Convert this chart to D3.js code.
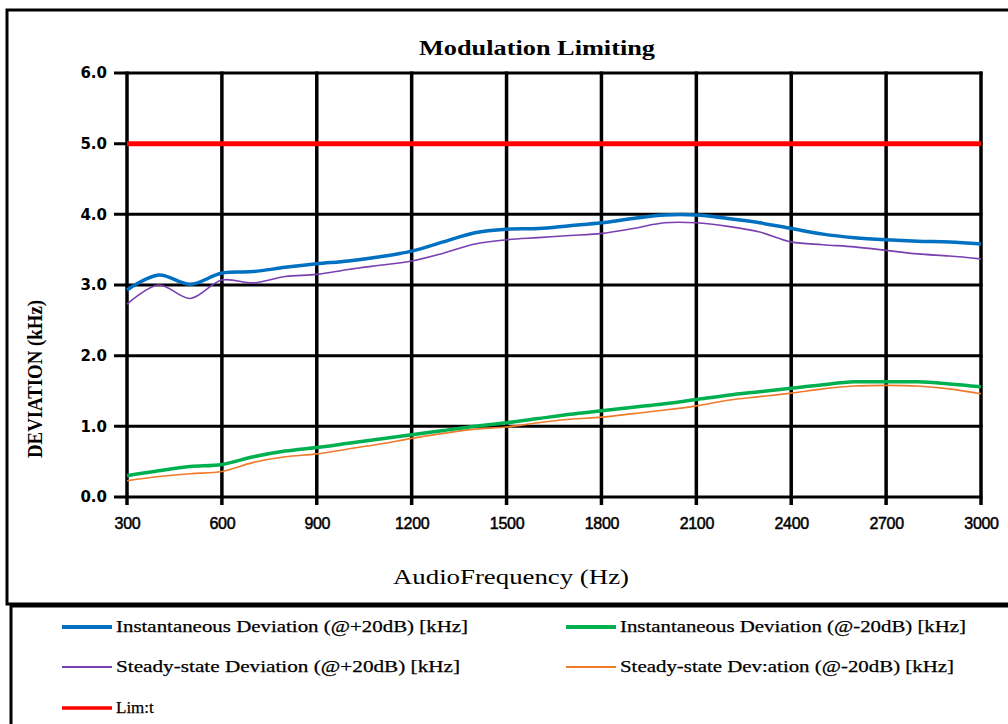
<!DOCTYPE html>
<html>
<head>
<meta charset="utf-8">
<script src="https://cdn.jsdelivr.net/npm/d3@7"></script>
<style>
  body { margin: 0; background: #fff; }
  svg { display: block; }
</style>
</head>
<body>
<div id="chart"></div>
<script>
// audio frequency points (Hz)
var freqs = [300, 400, 500, 600, 700, 800, 900, 1000, 1100, 1200, 1300, 1400, 1500, 1600,
             1700, 1800, 1900, 2000, 2100, 2200, 2300, 2400, 2500, 2600, 2700, 2800, 2900, 3000];

var instPlus = [2.93, 3.14, 3.01, 3.17, 3.19, 3.25, 3.30, 3.34, 3.40, 3.48, 3.61, 3.74, 3.79, 3.80,
                3.84, 3.88, 3.94, 3.99, 3.99, 3.94, 3.88, 3.80, 3.72, 3.67, 3.64, 3.62, 3.61, 3.58];
var instMinus = [0.30, 0.37, 0.43, 0.46, 0.57, 0.65, 0.70, 0.76, 0.82, 0.88, 0.94, 1.00, 1.05, 1.11,
                 1.17, 1.22, 1.27, 1.32, 1.38, 1.44, 1.49, 1.54, 1.59, 1.63, 1.63, 1.63, 1.60, 1.56];
var steadyPlus = [2.73, 3.00, 2.81, 3.07, 3.03, 3.12, 3.15, 3.22, 3.28, 3.34, 3.45, 3.58, 3.64, 3.67,
                  3.70, 3.73, 3.80, 3.88, 3.88, 3.83, 3.75, 3.61, 3.57, 3.54, 3.49, 3.44, 3.41, 3.37];
var steadyMinus = [0.23, 0.29, 0.33, 0.36, 0.49, 0.57, 0.61, 0.68, 0.75, 0.83, 0.90, 0.96, 0.99, 1.05,
                   1.10, 1.13, 1.18, 1.23, 1.29, 1.37, 1.42, 1.47, 1.53, 1.57, 1.58, 1.57, 1.53, 1.46];
var limitValue = 5.0;

var xTicks = [300, 600, 900, 1200, 1500, 1800, 2100, 2400, 2700, 3000];
var yTicks = [0, 1, 2, 3, 4, 5, 6];

var seriesNames = ["Instantaneous Deviation (@+20dB) [kHz]", "Instantaneous Deviation (@-20dB) [kHz]",
                   "Steady-state Deviation (@+20dB) [kHz]", "Steady-state Dev:ation (@-20dB) [kHz]", "Lim:t"];

var width = 1008, height = 724;
var svg = d3.select("#chart").append("svg")
    .attr("width", width)
    .attr("height", height);

// frames
svg.append("rect")
    .attr("x", 7).attr("y", 10)
    .attr("width", 1010).attr("height", 594)
    .attr("fill", "none").attr("stroke", "#000").attr("stroke-width", 3);
svg.append("rect")
    .attr("x", 11).attr("y", 606)
    .attr("width", 1010).attr("height", 140)
    .attr("fill", "none").attr("stroke", "#000").attr("stroke-width", 3);

var x = d3.scaleLinear().domain([300, 3000]).range([127, 981]);
var y = d3.scaleLinear().domain([0, 6]).range([497, 73]);

// grid
var grid = svg.append("g");
grid.selectAll(".hg")
    .data(yTicks).enter().append("line")
    .attr("x1", x(300) - 13).attr("x2", x(3000) + 1.5)
    .attr("y1", d => y(d)).attr("y2", d => y(d))
    .attr("stroke", "#000").attr("stroke-width", 3);
grid.selectAll(".vg")
    .data(xTicks).enter().append("line")
    .attr("x1", d => x(d)).attr("x2", d => x(d))
    .attr("y1", y(6) - 1.5).attr("y2", y(0) + 8)
    .attr("stroke", "#000").attr("stroke-width", 3.5);

// axes labels
var yAxis = d3.axisLeft(y).tickValues(yTicks).tickFormat(d3.format(".1f")).tickSize(0).tickPadding(20);
var gy = svg.append("g").attr("transform", "translate(" + x(300) + ",0)").call(yAxis);
gy.select(".domain").remove();
gy.selectAll("text")
    .attr("font-family", "DejaVu Sans")
    .attr("font-weight", "bold")
    .attr("font-size", 15)
    .attr("fill", "#000");

var xAxis = d3.axisBottom(x).tickValues(xTicks).tickFormat(d3.format("d")).tickSize(0).tickPadding(21);
var gx = svg.append("g").attr("transform", "translate(0," + y(0) + ")").call(xAxis);
gx.select(".domain").remove();
gx.selectAll("text")
    .attr("font-family", "Liberation Sans")
    .attr("font-size", 16)
    .attr("letter-spacing", "-0.3")
    .attr("stroke", "#000").attr("stroke-width", 0.5)
    .attr("fill", "#000");

// lines
var line = d3.line()
    .x((d, i) => x(freqs[i]))
    .y(d => y(d))
    .curve(d3.curveCatmullRom.alpha(0.5));

var lineSeries = [
  { values: steadyMinus, color: "#ef7a2a", w: 1.6 },
  { values: instMinus, color: "#00b050", w: 3.5 },
  { values: steadyPlus, color: "#7a3fb0", w: 1.6 },
  { values: instPlus, color: "#0070c0", w: 3.5 }
];
svg.append("g").selectAll("path")
    .data(lineSeries).enter().append("path")
    .attr("d", d => line(d.values))
    .attr("fill", "none")
    .attr("stroke", d => d.color)
    .attr("stroke-width", d => d.w)
    .attr("stroke-linejoin", "round");

svg.append("line")
    .attr("x1", x(300)).attr("x2", x(3000))
    .attr("y1", y(limitValue)).attr("y2", y(limitValue))
    .attr("stroke", "#ff0000").attr("stroke-width", 5);

// titles
svg.append("text")
    .attr("x", 537).attr("y", 55)
    .attr("text-anchor", "middle")
    .attr("font-family", "Liberation Serif")
    .attr("font-weight", "bold")
    .attr("font-size", 22)
    .attr("textLength", 236)
    .attr("lengthAdjust", "spacingAndGlyphs")
    .text("Modulation Limiting");

svg.append("text")
    .attr("transform", "translate(42,379) rotate(-90)")
    .attr("text-anchor", "middle")
    .attr("font-family", "Liberation Serif")
    .attr("font-weight", "bold")
    .attr("font-size", 21)
    .attr("textLength", 158)
    .attr("lengthAdjust", "spacingAndGlyphs")
    .text("DEVIATION (kHz)");

svg.append("text")
    .attr("x", 511).attr("y", 584)
    .attr("text-anchor", "middle")
    .attr("font-family", "Liberation Serif")
    .attr("font-size", 22)
    .attr("textLength", 236)
    .attr("lengthAdjust", "spacingAndGlyphs")
    .text("AudioFrequency (Hz)");

// legend
var legendItems = [
  { name: seriesNames[0], color: "#0070c0", w: 4, lx: 62, ly: 627, tl: 352 },
  { name: seriesNames[1], color: "#00b050", w: 4, lx: 566, ly: 627, tl: 346 },
  { name: seriesNames[2], color: "#7a3fb0", w: 2, lx: 62, ly: 667, tl: 344 },
  { name: seriesNames[3], color: "#ef7a2a", w: 2, lx: 566, ly: 667, tl: 334 },
  { name: seriesNames[4], color: "#ff0000", w: 3.5, lx: 62, ly: 708, tl: null }
];
var lg = svg.append("g").selectAll("g")
    .data(legendItems).enter().append("g");
lg.append("line")
    .attr("x1", d => d.lx).attr("x2", d => d.lx + 50)
    .attr("y1", d => d.ly).attr("y2", d => d.ly)
    .attr("stroke", d => d.color).attr("stroke-width", d => d.w);
lg.append("text")
    .attr("x", d => d.lx + 54).attr("y", d => d.ly + 5)
    .attr("font-family", "Liberation Serif")
    .attr("font-size", 17)
    .attr("stroke", "#000").attr("stroke-width", 0.25)
    .attr("textLength", d => d.tl)
    .attr("lengthAdjust", "spacingAndGlyphs")
    .text(d => d.name);
</script>
</body>
</html>
